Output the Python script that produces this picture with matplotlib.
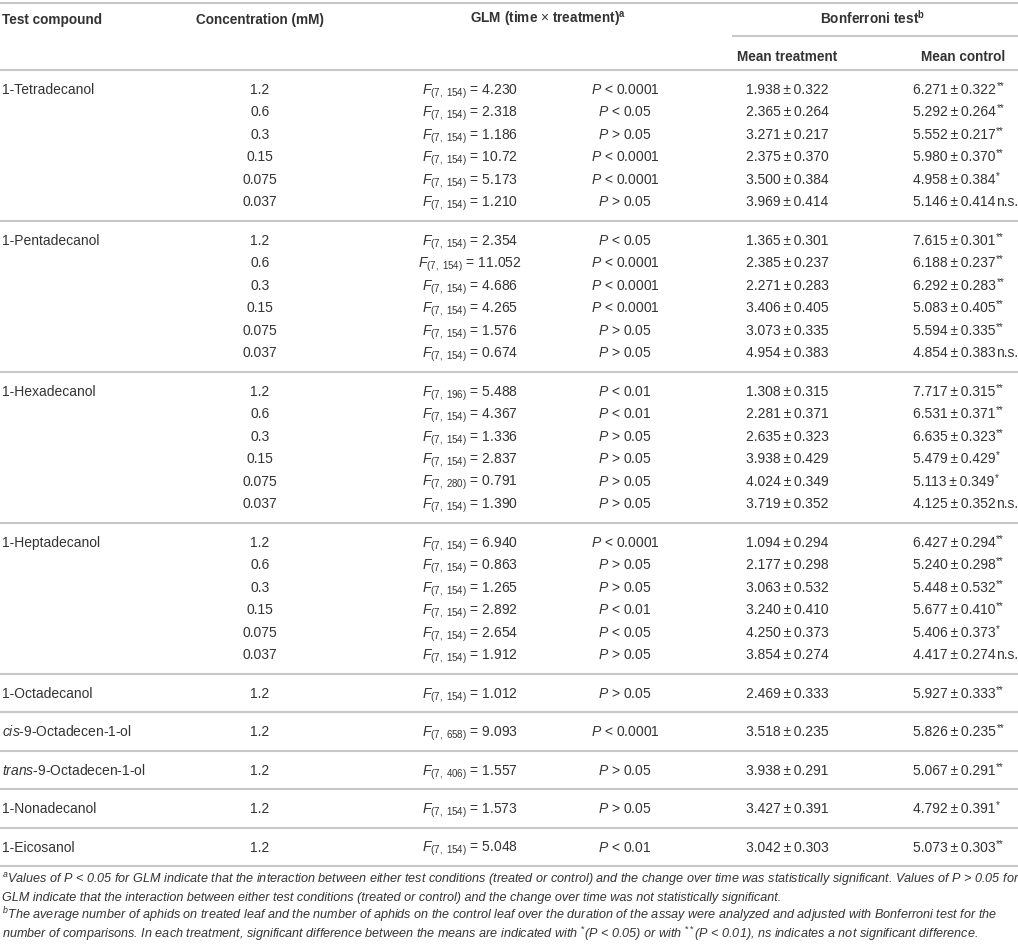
import matplotlib
matplotlib.use("Agg")
import matplotlib.pyplot as plt

plt.rcParams['font.family'] = ['Liberation Sans', 'DejaVu Sans']
plt.rcParams['mathtext.fontset'] = 'custom'
plt.rcParams['mathtext.rm'] = 'Liberation Sans'
plt.rcParams['mathtext.it'] = 'Liberation Sans:italic'
plt.rcParams['mathtext.bf'] = 'Liberation Sans:bold'

# ---------------- Table data ----------------
compounds = ["1-Tetradecanol", "1-Pentadecanol", "1-Hexadecanol", "1-Heptadecanol",
             "1-Octadecanol", "$cis$-9-Octadecen-1-ol", "$trans$-9-Octadecen-1-ol",
             "1-Nonadecanol", "1-Eicosanol"]
group_sizes = [6, 6, 6, 6, 1, 1, 1, 1, 1]

concentration = ["1.2", "0.6", "0.3", "0.15", "0.075", "0.037"] * 4 + ["1.2"] * 5

f_df2 = [154, 154, 154, 154, 154, 154,
         154, 154, 154, 154, 154, 154,
         196, 154, 154, 154, 280, 154,
         154, 154, 154, 154, 154, 154,
         154, 658, 406, 154, 154]
f_value = ["4.230", "2.318", "1.186", "10.72", "5.173", "1.210",
           "2.354", "11.052", "4.686", "4.265", "1.576", "0.674",
           "5.488", "4.367", "1.336", "2.837", "0.791", "1.390",
           "6.940", "0.863", "1.265", "2.892", "2.654", "1.912",
           "1.012", "9.093", "1.557", "1.573", "5.048"]
p_value = ["< 0.0001", "< 0.05", "> 0.05", "< 0.0001", "< 0.0001", "> 0.05",
           "< 0.05", "< 0.0001", "< 0.0001", "< 0.0001", "> 0.05", "> 0.05",
           "< 0.01", "< 0.01", "> 0.05", "> 0.05", "> 0.05", "> 0.05",
           "< 0.0001", "> 0.05", "> 0.05", "< 0.01", "< 0.05", "> 0.05",
           "> 0.05", "< 0.0001", "> 0.05", "> 0.05", "< 0.01"]
mean_treatment = ["1.938", "2.365", "3.271", "2.375", "3.500", "3.969",
                  "1.365", "2.385", "2.271", "3.406", "3.073", "4.954",
                  "1.308", "2.281", "2.635", "3.938", "4.024", "3.719",
                  "1.094", "2.177", "3.063", "3.240", "4.250", "3.854",
                  "2.469", "3.518", "3.938", "3.427", "3.042"]
mean_control = ["6.271", "5.292", "5.552", "5.980", "4.958", "5.146",
                "7.615", "6.188", "6.292", "5.083", "5.594", "4.854",
                "7.717", "6.531", "6.635", "5.479", "5.113", "4.125",
                "6.427", "5.240", "5.448", "5.677", "5.406", "4.417",
                "5.927", "5.826", "5.067", "4.792", "5.073"]
sem = ["0.322", "0.264", "0.217", "0.370", "0.384", "0.414",
       "0.301", "0.237", "0.283", "0.405", "0.335", "0.383",
       "0.315", "0.371", "0.323", "0.429", "0.349", "0.352",
       "0.294", "0.298", "0.532", "0.410", "0.373", "0.274",
       "0.333", "0.235", "0.291", "0.391", "0.303"]
signif = ["**", "**", "**", "**", "*", "n.s.",
          "**", "**", "**", "**", "**", "n.s.",
          "**", "**", "**", "*", "*", "n.s.",
          "**", "**", "**", "**", "*", "n.s.",
          "**", "**", "**", "*", "**"]

footnotes = [
    "$^{a}$Values of P < 0.05 for GLM indicate that the interaction between either test conditions (treated or control) and the change over time was statistically significant. Values of P > 0.05 for",
    "GLM indicate that the interaction between either test conditions (treated or control) and the change over time was not statistically significant.",
    "$^{b}$The average number of aphids on treated leaf and the number of aphids on the control leaf over the duration of the assay were analyzed and adjusted with Bonferroni test for the",
    "number of comparisons. In each treatment, significant difference between the means are indicated with $^{*}$(P < 0.05) or with $^{**}$(P < 0.01), ns indicates a not significant difference.",
]

# ---------------- Layout ----------------
W, H = 1018, 944
TXT = "#333333"
RULE = "#c8c8c8"
FS = 10.0
HFS = 9.8
BL = 5  # baseline offset from row centre (px)
x_comp, x_conc, x_f, x_p, x_mt, x_mc = 2, 260, 470, 625, 787, 913

fig = plt.figure(figsize=(W / 100, H / 100), dpi=100)
ax = fig.add_axes([0, 0, 1, 1])
ax.set_xlim(0, W)
ax.set_ylim(H, 0)
ax.axis("off")
renderer = fig.canvas.get_renderer()

# header
ax.hlines(3, 0, W, color=RULE, lw=1.5)
ax.text(x_comp, 19 + BL, "Test compound", fontsize=HFS, weight="bold", color=TXT, va="baseline")
ax.text(x_conc, 19 + BL, "Concentration (mM)", fontsize=HFS, weight="bold", color=TXT,
        va="baseline", ha="center")
ax.text(548, 19 + BL, r"GLM (time $\times$ treatment)$^{\mathbf{a}}$", fontsize=HFS, weight="bold",
        color=TXT, va="baseline", ha="center")
ax.text(873, 19 + BL, r"Bonferroni test$^{\mathbf{b}}$", fontsize=HFS, weight="bold", color=TXT,
        va="baseline", ha="center")
ax.hlines(36, 732, W, color=RULE, lw=1.5)
ax.text(x_mt, 56 + BL, "Mean treatment", fontsize=HFS, weight="bold", color=TXT,
        va="baseline", ha="center")
ax.text(963, 56 + BL, "Mean control", fontsize=HFS, weight="bold", color=TXT,
        va="baseline", ha="center")
ax.hlines(70, 0, W, color=RULE, lw=1.5)

# body
sep = 70
row = 0
for name, n in zip(compounds, group_sizes):
    ax.text(x_comp, sep + 19 + BL, name, fontsize=FS, color=TXT, va="baseline")
    for i in range(n):
        y = sep + 19 + 22.4 * i + BL
        ax.text(x_conc, y, concentration[row], fontsize=FS, color=TXT, va="baseline", ha="center")
        ax.text(x_f, y + 0.5, r"$F_{(7,\ %d)}$ = %s" % (f_df2[row], f_value[row]), fontsize=FS,
                color=TXT, va="baseline", ha="center")
        ax.text(x_p, y, "$P$ " + p_value[row], fontsize=FS, color=TXT, va="baseline", ha="center")
        ax.text(x_mt, y, mean_treatment[row] + "\u2009\u00b1\u2009" + sem[row], fontsize=FS,
                color=TXT, va="baseline", ha="center")
        base = ax.text(x_mc, y, mean_control[row] + "\u2009\u00b1\u2009" + sem[row], fontsize=FS,
                       color=TXT, va="baseline")
        x_end = base.get_window_extent(renderer).x1 + 0.5
        if signif[row] == "n.s.":
            ax.text(x_end, y, signif[row], fontsize=FS, color=TXT, va="baseline")
        else:
            ax.text(x_end, y - 5, signif[row], fontsize=7, color=TXT, va="baseline")
        row += 1
    sep = sep + 151 if n > 1 else sep + 38.4
    ax.hlines(sep, 0, W, color=RULE, lw=1.5)

# footnotes
for k, line in enumerate(footnotes):
    ax.text(x_comp, 883 + 18.3 * k, line, fontsize=9.05, style="italic", color=TXT,
            va="baseline")

fig.savefig("out.png", dpi=100)
